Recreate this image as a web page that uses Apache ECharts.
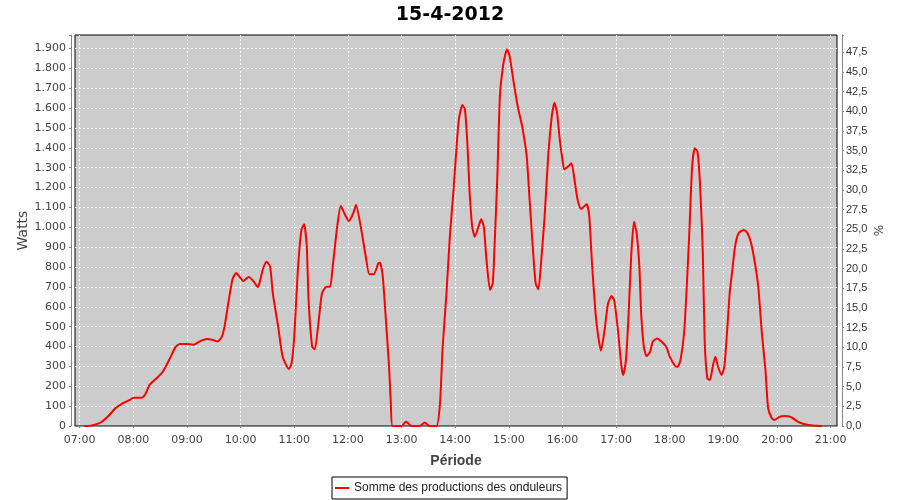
<!DOCTYPE html>
<html>
<head>
<meta charset="utf-8">
<script src="https://cdn.jsdelivr.net/npm/echarts@6/dist/echarts.min.js"></script>
<style>
html,body{margin:0;padding:0;background:#fff;}
#chart{width:900px;height:500px;}
</style>
</head>
<body>
<div id="chart"></div>
<script>
const title = "15-4-2012";
const seriesName = "Somme des productions des onduleurs";
const times = ["07:05","07:09","07:17","07:24","07:32","07:40","07:48","07:56","08:00","08:09","08:13","08:18","08:26","08:33","08:41","08:47","08:52","08:59","09:07","09:16","09:22","09:29","09:34","09:39","09:42","09:47","09:51","09:55","09:59","10:03","10:09","10:15","10:19","10:21","10:25","10:29","10:33","10:36","10:42","10:47","10:54","10:57","11:00","11:04","11:08","11:11","11:14","11:16","11:20","11:23","11:27","11:31","11:36","11:40","11:43","11:48","11:52","11:56","12:01","12:06","12:09","12:15","12:20","12:24","12:29","12:34","12:36","12:39","12:42","12:46","12:48","12:50","13:00","13:05","13:11","13:20","13:26","13:31","13:39","13:43","13:46","13:50","13:54","13:58","14:01","14:04","14:08","14:11","14:14","14:16","14:19","14:22","14:26","14:29","14:32","14:35","14:39","14:42","14:44","14:47","14:50","14:54","14:58","15:01","15:05","15:10","15:15","15:20","15:23","15:27","15:30","15:33","15:36","15:40","15:44","15:48","15:51","15:54","15:57","16:00","16:02","16:06","16:10","16:14","16:17","16:21","16:27","16:30","16:33","16:37","16:40","16:43","16:47","16:51","16:55","16:58","17:02","17:06","17:08","17:11","17:14","17:17","17:20","17:23","17:26","17:28","17:31","17:34","17:38","17:41","17:46","17:51","17:56","18:00","18:06","18:09","18:12","18:16","18:19","18:22","18:25","18:28","18:31","18:34","18:37","18:39","18:42","18:45","18:48","18:51","18:54","18:58","19:01","19:04","19:07","19:10","19:13","19:17","19:23","19:27","19:31","19:35","19:39","19:43","19:47","19:50","19:54","19:57","20:02","20:08","20:16","20:23","20:31","20:40","20:50"];
const watts = [0,0,7,19,50,89,114,131,142,142,156,206,240,273,341,396,413,413,409,430,438,433,425,450,500,640,740,770,750,730,750,725,700,718,790,827,802,668,500,349,287,316,450,785,987,1015,903,634,399,386,517,668,701,701,802,1003,1107,1071,1032,1071,1112,987,852,764,764,819,822,752,567,298,114,0,0,22,0,0,17,0,0,114,400,650,953,1180,1370,1540,1616,1591,1389,1188,1003,953,1003,1040,1003,836,685,718,903,1238,1658,1826,1896,1859,1742,1607,1507,1356,1154,886,718,688,819,1054,1356,1557,1627,1574,1440,1339,1292,1305,1322,1221,1138,1092,1117,1054,819,567,450,379,480,618,654,630,483,298,257,332,567,869,1028,970,802,567,399,352,374,424,441,424,399,349,302,298,332,467,701,987,1305,1398,1381,1205,869,433,240,232,298,349,298,257,298,467,668,785,903,970,987,970,920,827,701,467,282,90,40,30,44,50,44,22,9,2,0];

function t(s){const p=s.split(":");return Date.UTC(2012,3,15,+p[0],+p[1]);}
const data = times.map((s,i)=>[t(s), watts[i]]);

const xMin = Date.UTC(2012,3,15,6,54,45);
const xMax = Date.UTC(2012,3,15,21,7,3);

function fmtW(v){
  if (v % 100 !== 0) return '';
  if (v >= 1000) return Math.floor(v/1000) + '.' + String(v%1000).padStart(3,'0');
  return String(v);
}
function fmtP(v){
  if (v > 47.6) return '';
  return v.toFixed(1).replace('.', ',');
}
function fmtT(v){
  const d = new Date(v);
  if (d.getUTCMinutes() !== 0 || d.getUTCSeconds() !== 0) return '';
  return String(d.getUTCHours()).padStart(2,'0') + ':00';
}

const chart = echarts.init(document.getElementById('chart'), null, {renderer:'canvas'});
chart.setOption({
  useUTC: true,
  animation: false,
  backgroundColor: '#ffffff',
  title: {
    text: title, left: 'center', top: 1,
    textStyle: {fontFamily: 'DejaVu Sans', fontWeight: 'bold', fontSize: 19, color: '#000'}
  },
  legend: {
    data: [seriesName],
    left: 332, top: 477,
    padding: [5, 5, 5, 3],
    borderColor: '#000', borderWidth: 1,
    icon: 'rect', itemWidth: 14, itemHeight: 2,
    textStyle: {fontFamily: 'Liberation Sans', fontSize: 12, color: '#222'}
  },
  grid: {
    left: 75, top: 35, right: 63, bottom: 74,
    show: true, backgroundColor: '#cccccc', borderColor: '#000', borderWidth: 1
  },
  xAxis: {
    type: 'time', min: xMin, max: xMax,
    minInterval: 3600000, maxInterval: 3600000,
    offset: 3,
    name: 'Période', nameLocation: 'middle', nameGap: 25, nameMoveOverlap: false,
    nameTextStyle: {fontFamily: 'Liberation Sans', fontWeight: 'bold', fontSize: 14, color: '#444'},
    axisLine: {lineStyle: {color: '#888'}},
    axisTick: {length: 2, lineStyle: {color: '#888'}},
    axisLabel: {formatter: fmtT, margin: 6, fontFamily: 'DejaVu Sans', fontSize: 11, color: '#444', hideOverlap: false},
    splitLine: {show: true, showMinLine: false, showMaxLine: false, lineStyle: {color: '#ffffff', type: [2, 2], width: 1}}
  },
  yAxis: [{
    type: 'value', min: 0, max: 1968, interval: 100,
    offset: 4, position: 'left',
    name: 'Watts', nameLocation: 'middle', nameGap: 41, nameMoveOverlap: false,
    nameTextStyle: {fontFamily: 'DejaVu Sans', fontSize: 14, color: '#444'},
    axisLine: {show: true, lineStyle: {color: '#888'}},
    axisTick: {show: true, length: 2, lineStyle: {color: '#888'}},
    axisLabel: {formatter: fmtW, margin: 5, fontFamily: 'DejaVu Sans', fontSize: 11, color: '#444'},
    splitLine: {show: true, showMinLine: false, showMaxLine: false, lineStyle: {color: '#ffffff', type: [2, 2], width: 1}}
  }, {
    type: 'value', min: 0, max: 49.7, interval: 2.5,
    offset: 5, position: 'right',
    name: '%', nameLocation: 'middle', nameGap: 32, nameMoveOverlap: false,
    nameTextStyle: {fontFamily: 'DejaVu Sans', fontSize: 12, color: '#444'},
    axisLine: {show: true, lineStyle: {color: '#888'}},
    axisTick: {show: true, length: 2, lineStyle: {color: '#888'}},
    axisLabel: {formatter: fmtP, margin: 4, fontFamily: 'Liberation Sans', fontSize: 11, color: '#333'},
    splitLine: {show: false}
  }],
  series: [{
    name: seriesName, type: 'line', yAxisIndex: 0,
    data: data, showSymbol: false, symbol: 'none',
    smooth: 0.2,
    lineStyle: {color: '#ff0000', width: 2},
    itemStyle: {color: '#ff0000'}
  }]
});
</script>
</body>
</html>
